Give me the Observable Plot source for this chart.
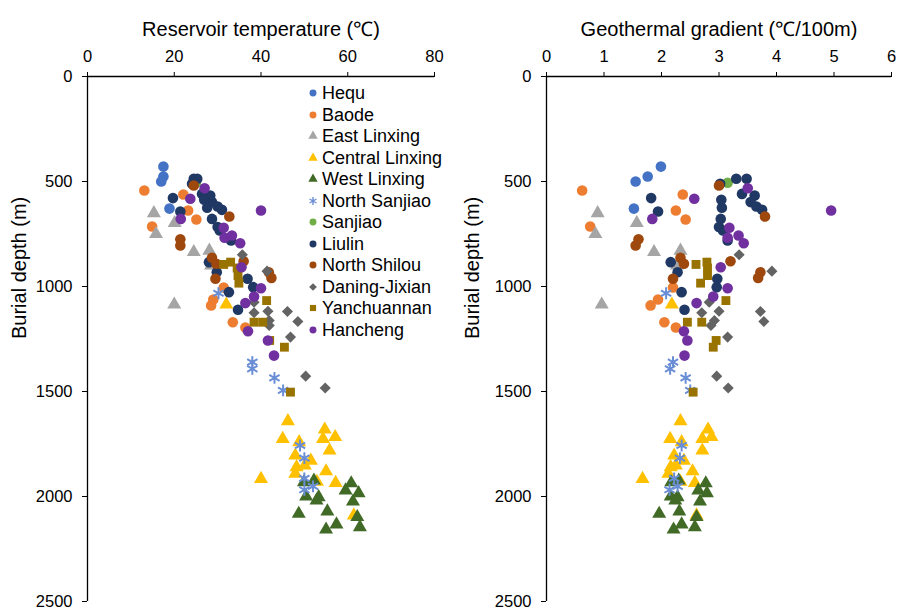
<!DOCTYPE html>
<html>
<head>
<meta charset="utf-8">
<script src="https://cdn.jsdelivr.net/npm/d3@7"></script>
<script src="https://cdn.jsdelivr.net/npm/@observablehq/plot@0.6"></script>
<style>
  html, body { margin: 0; padding: 0; background: #fff; }
  #wrap { position: relative; width: 906px; height: 608px; font-family: "Liberation Sans", Arial, sans-serif; }
  #left, #right { position: absolute; top: 0; }
  #left { left: 0; }
  #right { left: 453px; }
  #legend { position: absolute; left: 0; top: 0; }
  .lg { position: absolute; font-size: 18px; color: #000; white-space: nowrap; line-height: 1; }
</style>
</head>
<body>
<div id="wrap">
  <div id="left"></div>
  <div id="right"></div>
  <div id="legend"></div>
</div>
<script>
// ---- data: depth (m), reservoir temperature (°C), geothermal gradient (°C/100m) ----
const hequDepth = [429, 476, 500, 629];
const hequTemp  = [17.5, 17.5, 17.0, 18.9];
const hequGrad  = [1.99, 1.76, 1.55, 1.52];

const baodeDepth = [543, 562, 638, 681, 714, 1005, 1062, 1090, 1170, 1195];
const baodeTemp  = [13.1, 22.1, 23.2, 25.1, 14.9, 31.4, 29.0, 28.5, 33.5, 36.4];
const baodeGrad  = [0.62, 2.37, 2.25, 2.42, 0.76, 2.2, 1.94, 1.81, 2.05, 2.25];

const eastLinxingDepth = [651, 698, 750, 836, 829, 1086, 900];
const eastLinxingTemp  = [15.3, 20.1, 15.8, 24.5, 28.1, 20.0, 28.5];
const eastLinxingGrad  = [0.89, 1.57, 0.85, 1.87, 2.33, 0.96, 2.27];

const centralLinxingDepth = [1641, 1681, 1717, 1726, 1726, 1741, 1781, 1805, 1829, 1852, 1860, 1880, 1892, 1916, 1930, 1935, 2090, 1086];
const centralLinxingTemp  = [46.2, 54.7, 57.1, 45.0, 54.3, 48.8, 55.8, 47.9, 51.5, 50.1, 48.2, 55.0, 47.9, 40.0, 52.9, 57.2, 61.4, 32.0];
const centralLinxingGrad  = [2.33, 2.81, 2.87, 2.15, 2.71, 2.35, 2.71, 2.22, 2.39, 2.25, 2.16, 2.54, 2.12, 1.67, 2.33, 2.58, 2.61, 2.18];

const westLinxingDepth = [1937, 1971, 1984, 2024, 2003, 2019, 2000, 1924, 1932, 2082, 2071, 2098, 2133, 2146, 2157];
const westLinxingTemp  = [60.8, 59.5, 62.5, 61.2, 53.3, 52.8, 50.4, 52.2, 49.9, 48.7, 55.3, 62.2, 57.4, 62.8, 55.0];
const westLinxingGrad  = [2.77, 2.64, 2.79, 2.67, 2.28, 2.24, 2.16, 2.30, 2.17, 1.96, 2.31, 2.61, 2.35, 2.58, 2.21];

const northSanjiaoDepth = [1032, 1360, 1392, 1435, 1495, 1757, 1817, 1914, 1952, 1968];
const northSanjiaoTemp  = [30.2, 38.0, 38.0, 43.1, 45.1, 49.0, 50.0, 50.0, 52.0, 50.0];
const northSanjiaoGrad  = [2.08, 2.2, 2.15, 2.42, 2.5, 2.35, 2.32, 2.22, 2.28, 2.14];

const sanjiaoDepth = [506];
const sanjiaoTemp  = [25.0];
const sanjiaoGrad  = [3.15];

const liulinDepth = [487, 487, 511, 579, 643, 559, 587, 567, 598, 625, 619, 635, 678, 717, 733, 781, 884, 932, 963, 1003, 1027, 1111];
const liulinTemp  = [24.5, 25.3, 24.1, 19.7, 21.4, 26.4, 26.9, 28.3, 28.7, 27.6, 30.0, 31.0, 28.7, 30.0, 30.5, 33.1, 28.0, 29.8, 36.9, 38.2, 32.6, 34.7];
const liulinGrad  = [3.3, 3.48, 3.02, 1.82, 1.94, 3.4, 3.04, 3.62, 3.55, 3.05, 3.65, 3.75, 3.03, 3.0, 3.07, 3.15, 2.16, 2.28, 2.97, 2.96, 2.35, 2.4];

const northShilouDepth = [519, 667, 775, 805, 863, 892, 963, 880, 932, 959];
const northShilouTemp  = [24.5, 32.7, 21.4, 21.4, 28.7, 29.7, 29.5, 36.0, 41.8, 42.4];
const northShilouGrad  = [3.0, 3.8, 1.6, 1.55, 2.33, 2.39, 2.2, 3.2, 3.72, 3.68];

const daningDepth = [849, 927, 1075, 1125, 1118, 1162, 1119, 1167, 1186, 1241, 1427, 1483];
const daningTemp  = [35.7, 41.4, 38.4, 38.4, 41.6, 41.9, 46.1, 48.5, 41.9, 46.8, 50.3, 54.8];
const daningGrad  = [3.35, 3.92, 2.83, 2.7, 3.0, 2.92, 3.72, 3.78, 2.86, 3.15, 2.96, 3.16];

const yanchuannanDepth = [884, 895, 912, 948, 984, 1067, 1170, 1170, 1257, 1289, 1503];
const yanchuannanTemp  = [33.0, 31.4, 34.5, 34.7, 34.9, 41.3, 38.4, 40.4, 42.0, 45.4, 46.8];
const yanchuannanGrad  = [2.79, 2.6, 2.8, 2.8, 2.68, 3.12, 2.45, 2.7, 2.95, 2.9, 2.55];

const hanchengDepth = [532, 582, 678, 720, 768, 757, 794, 638, 908, 1008, 1048, 1079, 1213, 1257, 1329];
const hanchengTemp  = [27.0, 23.7, 21.5, 31.4, 31.6, 33.3, 35.2, 40.0, 35.5, 40.0, 38.4, 36.4, 37.0, 41.6, 43.0];
const hanchengGrad  = [3.5, 2.57, 1.84, 3.18, 3.15, 3.34, 3.43, 4.95, 3.03, 3.15, 2.9, 2.61, 2.39, 2.45, 2.4];

const tempTicks = [0, 20, 40, 60, 80];
const gradTicks = [0, 1, 2, 3, 4, 5, 6];
const depthTicks = [0, 500, 1000, 1500, 2000, 2500];

// ---- series definitions (style) ----
const series = [
  {name: "Hequ",            depth: hequDepth,           temp: hequTemp,           grad: hequGrad,           color: "#4472C4", symbol: "circle",   r: 5.3},
  {name: "Baode",           depth: baodeDepth,          temp: baodeTemp,          grad: baodeGrad,          color: "#ED7D31", symbol: "circle",   r: 5.3},
  {name: "East Linxing",    depth: eastLinxingDepth,    temp: eastLinxingTemp,    grad: eastLinxingGrad,    color: "#A5A5A5", symbol: "triangle", r: 5.2},
  {name: "Central Linxing", depth: centralLinxingDepth, temp: centralLinxingTemp, grad: centralLinxingGrad, color: "#FFC000", symbol: "triangle", r: 5.2},
  {name: "West Linxing",    depth: westLinxingDepth,    temp: westLinxingTemp,    grad: westLinxingGrad,    color: "#416A27", symbol: "triangle", r: 5.2},
  {name: "North Sanjiao",   depth: northSanjiaoDepth,   temp: northSanjiaoTemp,   grad: northSanjiaoGrad,   color: "#6A8ED6", symbol: "asterisk", r: 5.6},
  {name: "Sanjiao",         depth: sanjiaoDepth,        temp: sanjiaoTemp,        grad: sanjiaoGrad,        color: "#70AD47", symbol: "circle",   r: 5.3},
  {name: "Liulin",          depth: liulinDepth,         temp: liulinTemp,         grad: liulinGrad,         color: "#203864", symbol: "circle",   r: 5.3},
  {name: "North Shilou",    depth: northShilouDepth,    temp: northShilouTemp,    grad: northShilouGrad,    color: "#9E480E", symbol: "circle",   r: 5.3},
  {name: "Daning-Jixian",   depth: daningDepth,         temp: daningTemp,         grad: daningGrad,         color: "#636363", symbol: "diamond2", r: 5.0},
  {name: "Yanchuannan",     depth: yanchuannanDepth,    temp: yanchuannanTemp,    grad: yanchuannanGrad,    color: "#997300", symbol: "square",   r: 5.0},
  {name: "Hancheng",        depth: hanchengDepth,       temp: hanchengTemp,       grad: hanchengGrad,       color: "#7030A0", symbol: "circle",   r: 5.3}
];
series.forEach(s => {
  s.rows = s.depth.map((d, i) => ({depth: d, temp: s.temp[i], grad: s.grad[i], name: s.name}));
});

const FONT = "'Liberation Sans', Arial, sans-serif";

function dotMarks(key) {
  return series.map(s => s.symbol === "asterisk"
    ? Plot.dot(s.rows, {x: key, y: "depth", symbol: "asterisk", stroke: s.color, strokeWidth: 2, fill: "none", r: s.r})
    : Plot.dot(s.rows, {x: key, y: "depth", symbol: s.symbol, fill: s.color, stroke: "none", r: s.r}));
}

function panel({key, domain, ticks, title, marginLeft, marginRight}) {
  return Plot.plot({
    width: 453,
    height: 608,
    marginTop: 76,
    marginBottom: 7,
    marginLeft,
    marginRight,
    style: {fontFamily: FONT, fontSize: "16px", color: "#000", background: "transparent", overflow: "visible"},
    x: {domain, label: null},
    y: {domain: [0, 2500], reverse: true, label: null},
    marks: [
      Plot.axisX(ticks, {anchor: "top", tickSize: 5, tickPadding: 10, fontSize: 16.5, label: null, stroke: "#000", tickFormat: d => String(d)}),
      Plot.axisY(depthTicks, {anchor: "left", tickSize: 5, tickPadding: 10, fontSize: 16.5, label: null, stroke: "#000", tickFormat: d => String(d)}),
      Plot.ruleY([0], {stroke: "#000", strokeWidth: 1.3}),
      Plot.ruleX([0], {stroke: "#000", strokeWidth: 1.3}),
      ...dotMarks(key),
      Plot.text([title], {frameAnchor: "top", dy: -55, fontSize: 20, fill: "#000"}),
      Plot.text(["Burial depth (m)"], {frameAnchor: "left", rotate: -90, dx: -(marginLeft - 19), fontSize: 20, fill: "#000"})
    ]
  });
}

document.getElementById("left").append(panel({
  key: "temp", domain: [0, 80], ticks: tempTicks, title: "Reservoir temperature (℃)", marginLeft: 87, marginRight: 19
}));
document.getElementById("right").append(panel({
  key: "grad", domain: [0, 6], ticks: gradTicks, title: "Geothermal gradient (℃/100m)", marginLeft: 93, marginRight: 15
}));

// ---- legend (inside left panel) ----
const legend = document.getElementById("legend");
const symbolMap = {circle: d3.symbolCircle, triangle: d3.symbolTriangle, diamond2: d3.symbolDiamond2, square: d3.symbolSquare, asterisk: d3.symbolAsterisk};
series.forEach((s, i) => {
  const cy = 93.3 + 21.5 * i;
  const ns = "http://www.w3.org/2000/svg";
  const svg = document.createElementNS(ns, "svg");
  svg.setAttribute("width", 14); svg.setAttribute("height", 14);
  svg.style.position = "absolute";
  svg.style.left = (313 - 7) + "px";
  svg.style.top = (cy - 7) + "px";
  const p = document.createElementNS(ns, "path");
  p.setAttribute("transform", "translate(7,7)");
  p.setAttribute("d", d3.symbol(symbolMap[s.symbol], s.symbol === "asterisk" ? 45 : 38)());
  if (s.symbol === "asterisk") { p.setAttribute("stroke", s.color); p.setAttribute("fill", "none"); p.setAttribute("stroke-width", 1.4); }
  else p.setAttribute("fill", s.color);
  svg.append(p);
  legend.append(svg);
  const t = document.createElement("div");
  t.className = "lg";
  t.textContent = s.name;
  t.style.left = "322px";
  t.style.top = (cy - 9) + "px";
  legend.append(t);
});
</script>
</body>
</html>
